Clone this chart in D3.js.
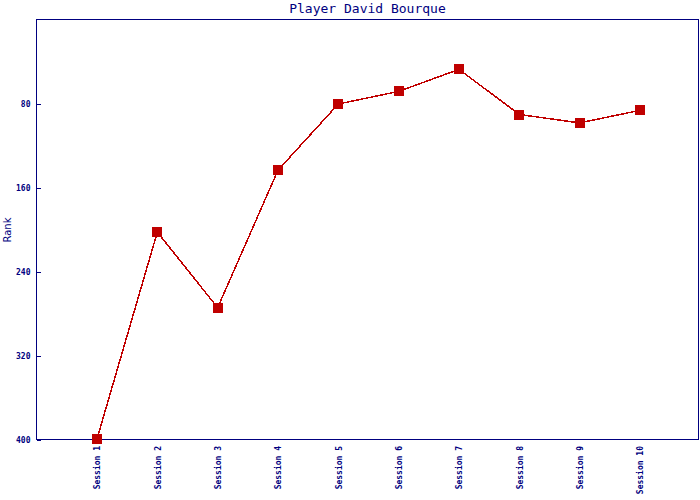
<!DOCTYPE html>
<html>
<head>
<meta charset="utf-8">
<script src="https://cdn.jsdelivr.net/npm/d3@7/dist/d3.min.js"></script>
<style>
  html, body { margin: 0; padding: 0; background: #fff; }
  svg { display: block; }
</style>
</head>
<body>
<script>
const title = "Player David Bourque";
const yTitle = "Rank";
const sessions = ["Session 1","Session 2","Session 3","Session 4","Session 5","Session 6","Session 7","Session 8","Session 9","Session 10"];
const ranks = [399, 202, 274, 143, 80, 68, 47, 90, 98, 86];
const yTicks = [80, 160, 240, 320, 400];

const W = 700, H = 500;
const pL = 37, pR = 698, pT = 20, pB = 440;
const navy = "#000080", red = "#c00000";

const svg = d3.select("body").append("svg").attr("width", W).attr("height", H);

const x = d3.scalePoint().domain(sessions).range([pL + 60, pR - 58]);
const y = d3.scaleLinear().domain([0, 400]).range([pT, pB]);

// frame
svg.append("rect")
  .attr("x", pL - 0.5).attr("y", pT - 0.5)
  .attr("width", pR - pL + 1).attr("height", pB - pT)
  .attr("fill", "none").attr("stroke", navy).attr("stroke-width", 1)
  .attr("shape-rendering", "crispEdges");

// y axis
const yAxis = d3.axisRight(y).tickValues(yTicks).tickSize(4).tickFormat(d3.format("d"));
const yg = svg.append("g").attr("transform", `translate(${pL - 0.5},0)`).call(yAxis);
yg.select(".domain").remove();
yg.selectAll("line").attr("stroke", navy).attr("shape-rendering", "crispEdges");
yg.selectAll("text")
  .attr("x", -6).attr("text-anchor", "end").attr("dy", "0.35em")
  .attr("fill", navy)
  .style("font-family", "'DejaVu Sans Mono', monospace").style("font-size", "8px").style("font-weight", "bold");

// x axis labels
const xAxis = d3.axisBottom(x).tickSize(0);
const xg = svg.append("g").attr("transform", `translate(0,${pB})`).call(xAxis);
xg.select(".domain").remove();
xg.selectAll("text")
  .attr("transform", "rotate(-90)")
  .attr("x", -6).attr("y", 0).attr("dy", "0.35em")
  .attr("text-anchor", "end")
  .attr("fill", navy)
  .style("font-family", "'DejaVu Sans Mono', monospace").style("font-size", "8px").style("font-weight", "bold");

// line
const line = d3.line().x((d, i) => x(sessions[i])).y(d => y(d));
svg.append("path").datum(ranks)
  .attr("d", line).attr("fill", "none").attr("stroke", red).attr("stroke-width", 1.5)
  .attr("shape-rendering", "crispEdges");

// markers
svg.selectAll("rect.m").data(ranks).enter().append("rect")
  .attr("class", "m")
  .attr("x", (d, i) => x(sessions[i]) - 5).attr("y", d => y(d) - 5)
  .attr("width", 10).attr("height", 10)
  .attr("fill", red).attr("shape-rendering", "crispEdges");

// title
svg.append("text").attr("x", (pL + pR) / 2).attr("y", 13)
  .attr("text-anchor", "middle").attr("fill", navy)
  .style("font-family", "'DejaVu Sans Mono', monospace").style("font-size", "13px")
  .text(title);

// y title
svg.append("text").attr("transform", `translate(11,${(pT + pB) / 2}) rotate(-90)`)
  .attr("text-anchor", "middle").attr("fill", navy)
  .style("font-family", "'DejaVu Sans', sans-serif").style("font-size", "10px")
  .text(yTitle);
</script>
</body>
</html>
